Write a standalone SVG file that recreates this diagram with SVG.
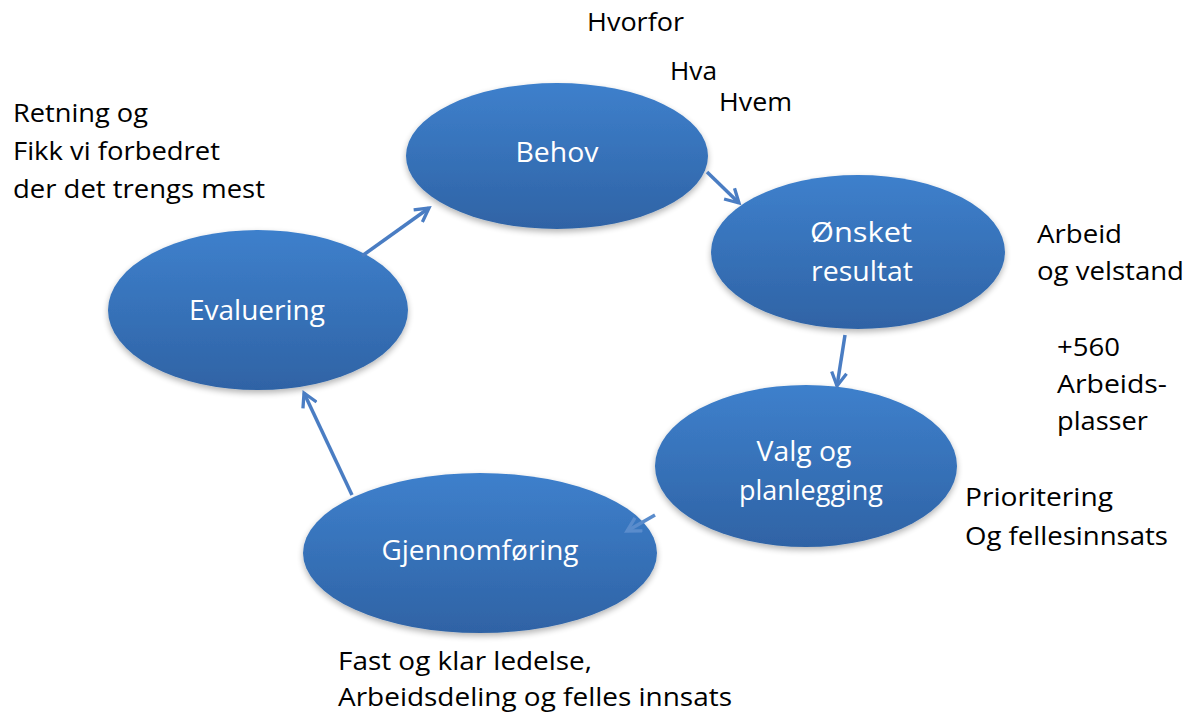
<svg xmlns="http://www.w3.org/2000/svg" width="1196" height="713" viewBox="0 0 1196 713">
<style>
.lbl{font-family:"Open Sans","Liberation Sans",sans-serif;font-size:27px;fill:#ffffff;text-anchor:middle}
.note{font-family:"Open Sans","Liberation Sans",sans-serif;font-size:25.5px;fill:#000000}
.node ellipse{fill:url(#g);filter:url(#sh)}
.conn line{stroke:#4a7dc3;stroke-width:3.5;fill:none;marker-end:url(#ah)}
</style>
<defs>
<linearGradient id="g" x1="0" y1="0" x2="0" y2="1">
<stop offset="0" stop-color="#3e80cc"/>
<stop offset="1" stop-color="#2f63a5"/>
</linearGradient>
<filter id="sh" x="-10%" y="-10%" width="120%" height="130%">
<feGaussianBlur in="SourceAlpha" stdDeviation="3"/>
<feOffset dx="0" dy="3" result="b"/>
<feComponentTransfer><feFuncA type="linear" slope="0.3"/></feComponentTransfer>
<feMerge><feMergeNode/><feMergeNode in="SourceGraphic"/></feMerge>
</filter>
<marker id="ah" viewBox="0 0 12 12" refX="10" refY="6" markerWidth="18" markerHeight="18" markerUnits="userSpaceOnUse" orient="auto">
<path d="M1,1 L10,6 L1,11" fill="none" stroke="#4a7dc3" stroke-width="2.2"/>
</marker>
<marker id="ah2" viewBox="0 0 12 12" refX="10" refY="6" markerWidth="18" markerHeight="18" markerUnits="userSpaceOnUse" orient="auto">
<path d="M1,1 L10,6 L1,11" fill="none" stroke="#5a8ccc" stroke-width="2.2"/>
</marker>
</defs>
<rect width="1196" height="713" fill="#ffffff"/>
<g id="node-behov" class="node">
<ellipse cx="557" cy="156" rx="151" ry="73"/>
<text class="lbl" x="557" y="162" textLength="83" lengthAdjust="spacingAndGlyphs">Behov</text>
</g>
<g id="node-onsket" class="node">
<ellipse cx="858" cy="252" rx="147" ry="77"/>
<text class="lbl" x="861" y="242" textLength="102" lengthAdjust="spacingAndGlyphs">Ønsket</text>
<text class="lbl" x="862" y="281" textLength="102" lengthAdjust="spacingAndGlyphs">resultat</text>
</g>
<g id="node-valg" class="node">
<ellipse cx="806" cy="466" rx="151" ry="81"/>
<text class="lbl" x="804" y="461" textLength="95" lengthAdjust="spacingAndGlyphs">Valg og</text>
<text class="lbl" x="811" y="500" textLength="144" lengthAdjust="spacingAndGlyphs">planlegging</text>
</g>
<g id="node-gjennomforing" class="node">
<ellipse cx="480" cy="553" rx="177" ry="80"/>
<text class="lbl" x="480" y="560" textLength="197" lengthAdjust="spacingAndGlyphs">Gjennomføring</text>
</g>
<g id="node-evaluering" class="node">
<ellipse cx="258" cy="310" rx="150" ry="80"/>
<text class="lbl" x="257" y="320" textLength="136" lengthAdjust="spacingAndGlyphs">Evaluering</text>
</g>
<g id="connectors" class="conn">
<line x1="707" y1="172" x2="739" y2="203"/>
<line x1="845" y1="335" x2="837" y2="386"/>
<line x1="655" y1="515" x2="627" y2="531" style="stroke:#5a8ccc;marker-end:url(#ah2)"/>
<line x1="352" y1="495" x2="304" y2="393"/>
<line x1="362" y1="256" x2="429" y2="208"/>
</g>
<g id="notes">
<text class="note" x="587" y="31" textLength="97" lengthAdjust="spacingAndGlyphs">Hvorfor</text>
<text class="note" x="670" y="80" textLength="47" lengthAdjust="spacingAndGlyphs">Hva</text>
<text class="note" x="719" y="111" textLength="73" lengthAdjust="spacingAndGlyphs">Hvem</text>
<text class="note" x="13" y="122" textLength="135" lengthAdjust="spacingAndGlyphs">Retning og</text>
<text class="note" x="13" y="160" textLength="207" lengthAdjust="spacingAndGlyphs">Fikk vi forbedret</text>
<text class="note" x="13" y="198" textLength="252" lengthAdjust="spacingAndGlyphs">der det trengs mest</text>
<text class="note" x="1037" y="243" textLength="85" lengthAdjust="spacingAndGlyphs">Arbeid</text>
<text class="note" x="1037" y="280" textLength="147" lengthAdjust="spacingAndGlyphs">og velstand</text>
<text class="note" x="1057" y="356" textLength="63" lengthAdjust="spacingAndGlyphs">+560</text>
<text class="note" x="1057" y="393" textLength="110" lengthAdjust="spacingAndGlyphs">Arbeids-</text>
<text class="note" x="1057" y="430" textLength="91" lengthAdjust="spacingAndGlyphs">plasser</text>
<text class="note" x="965" y="506" textLength="148" lengthAdjust="spacingAndGlyphs">Prioritering</text>
<text class="note" x="965" y="545" textLength="203" lengthAdjust="spacingAndGlyphs">Og fellesinnsats</text>
<text class="note" x="338" y="670" textLength="254" lengthAdjust="spacingAndGlyphs">Fast og klar ledelse,</text>
<text class="note" x="338" y="706" textLength="394" lengthAdjust="spacingAndGlyphs">Arbeidsdeling og felles innsats</text>
</g>
</svg>
